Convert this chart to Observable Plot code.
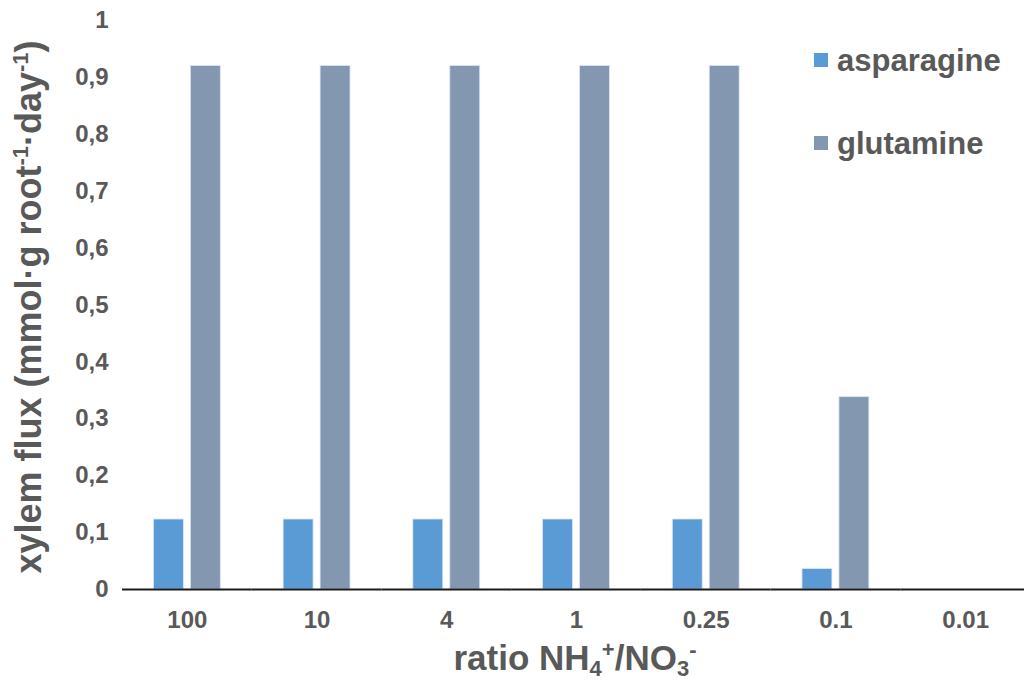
<!DOCTYPE html>
<html>
<head>
<meta charset="utf-8">
<script src="https://cdn.jsdelivr.net/npm/d3@7"></script>
<script src="https://cdn.jsdelivr.net/npm/@observablehq/plot@0.6"></script>
<style>
  html, body { margin: 0; padding: 0; background: #ffffff; overflow: hidden; }
  #chart { width: 1024px; height: 681px; overflow: hidden; }
  #chart svg { max-width: none !important; }
</style>
</head>
<body>
<div id="chart"></div>
<script>
// ---- data ----
const ratios = ["100", "10", "4", "1", "0.25", "0.1", "0.01"];
const seriesNames = ["asparagine", "glutamine"];
const asparagine = [0.123, 0.123, 0.123, 0.123, 0.123, 0.036, 0];
const glutamine = [0.92, 0.92, 0.92, 0.92, 0.92, 0.338, 0];
const yTicks = [0, 0.1, 0.2, 0.3, 0.4, 0.5, 0.6, 0.7, 0.8, 0.9, 1];
const seriesColors = ["#5B9BD5", "#8497B0"];

const rows = ratios.flatMap((r, i) => [
  {ratio: r, series: seriesNames[0], value: asparagine[i]},
  {ratio: r, series: seriesNames[1], value: glutamine[i]}
]);

const FONT = "'Liberation Sans', Arial, sans-serif";
const GRAY = "#595959";

const chart = Plot.plot({
  width: 1030,
  height: 681,
  marginLeft: 122,
  marginRight: 0,
  marginTop: 20,
  marginBottom: 92,
  style: {fontFamily: FONT, fontSize: "24px", fontWeight: "bold", color: GRAY, background: "#ffffff", maxWidth: "none"},
  fx: {domain: ratios, padding: 0, round: false, label: null, axis: "bottom", tickSize: 0, tickPadding: 21},
  x: {domain: seriesNames, axis: null, round: false, paddingInner: 0.19, paddingOuter: 0.85},
  y: {domain: [0, 1], ticks: yTicks, tickFormat: d => String(d).replace(".", ","), tickSize: 0, tickPadding: 14, label: null},
  color: {domain: seriesNames, range: seriesColors},
  marks: [
    Plot.barY(rows, {fx: "ratio", x: "series", y: "value", fill: "series", stroke: "#dbe6f2", strokeWidth: 0.8}),
    Plot.ruleY([0], {stroke: "#1a1a1a", strokeWidth: 2})
  ]
});
chart.style.maxWidth = "none";

document.getElementById("chart").appendChild(chart);

const svg = d3.select(chart);

// Y axis title with superscripts
const yt = svg.append("text")
  .attr("transform", "translate(41,307) rotate(-90)")
  .attr("text-anchor", "middle")
  .attr("fill", GRAY)
  .style("font-family", FONT)
  .style("font-weight", "bold")
  .style("font-size", "36px");
yt.append("tspan").text("xylem flux (mmol·g root");
yt.append("tspan").attr("dy", -13).style("font-size", "22px").text("-1");
yt.append("tspan").attr("dy", 13).text("·day");
yt.append("tspan").attr("dy", -13).style("font-size", "22px").text("-1");
yt.append("tspan").attr("dy", 13).text(")");

// X axis title with sub/superscripts
const xt = svg.append("text")
  .attr("x", 575)
  .attr("y", 670)
  .attr("text-anchor", "middle")
  .attr("fill", GRAY)
  .style("font-family", FONT)
  .style("font-weight", "bold")
  .style("font-size", "35px");
xt.append("tspan").text("ratio NH");
xt.append("tspan").attr("dy", 6).style("font-size", "22px").text("4");
xt.append("tspan").attr("dy", -19).style("font-size", "22px").text("+");
xt.append("tspan").attr("dy", 13).text("/NO");
xt.append("tspan").attr("dy", 6).style("font-size", "22px").text("3");
xt.append("tspan").attr("dy", -19).style("font-size", "22px").text("-");

// Legend
const legendY = [60, 143];
seriesNames.forEach((name, i) => {
  const g = svg.append("g");
  g.append("rect")
    .attr("x", 814).attr("y", legendY[i] - 7)
    .attr("width", 14).attr("height", 14)
    .attr("fill", seriesColors[i]);
  g.append("text")
    .attr("x", 837).attr("y", legendY[i])
    .attr("dy", "0.35em")
    .attr("text-anchor", "start")
    .attr("fill", GRAY)
    .style("font-family", FONT)
    .style("font-weight", "bold")
    .style("font-size", "31px")
    .text(name);
});
</script>
</body>
</html>
